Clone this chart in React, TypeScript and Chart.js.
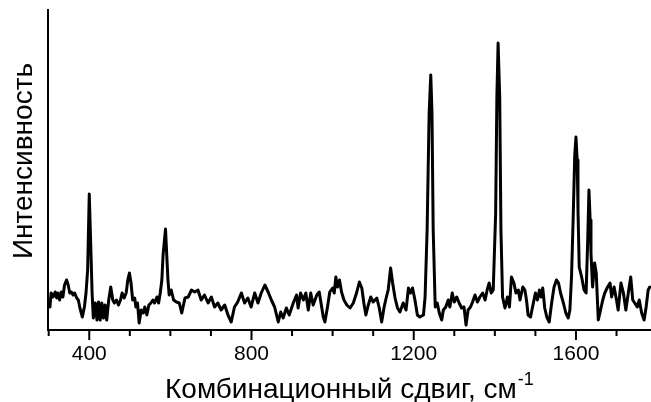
import React, { useEffect, useRef } from "react";
import { Chart, registerables } from "chart.js";

Chart.register(...registerables);

// Raman shift, cm-1
const wavenumbers = [
  303, 306, 311, 316, 320, 323, 327, 331, 335, 339, 344, 348, 352, 356, 360, 364, 369, 373, 377, 383,
  388, 392, 396, 400, 404, 407, 410, 415, 419, 423, 427, 431, 435, 439, 443, 448, 453, 458, 462, 467,
  472, 477, 481, 486, 491, 495, 499, 503, 507, 512, 515, 519, 523, 528, 533, 537, 542, 547, 552, 557,
  561, 567, 571, 575, 579, 582, 588, 594, 597, 602, 608, 615, 622, 628, 636, 644, 652, 660, 668, 676,
  684, 693, 701, 709, 717, 725, 734, 742, 750, 758, 766, 775, 783, 791, 799, 808, 816, 824, 833, 841,
  849, 857, 866, 872, 878, 886, 893, 903, 911, 915, 921, 928, 934, 940, 946, 952, 961, 967, 973, 977,
  981, 987, 993, 1000, 1004, 1008, 1012, 1017, 1022, 1028, 1035, 1043, 1051, 1059, 1066, 1072, 1077, 1082, 1088, 1094,
  1100, 1109, 1115, 1121, 1127, 1132, 1137, 1143, 1148, 1154, 1160, 1166, 1174, 1181, 1187, 1192, 1197, 1203, 1209, 1215,
  1224, 1228, 1233, 1238, 1242, 1245, 1248, 1253, 1258, 1263, 1269, 1273, 1279, 1285, 1289, 1295, 1300, 1306, 1312, 1318,
  1324, 1329, 1334, 1340, 1345, 1351, 1357, 1363, 1370, 1376, 1381, 1386, 1391, 1396, 1402, 1405, 1408, 1412, 1415, 1419,
  1425, 1431, 1436, 1441, 1447, 1452, 1458, 1462, 1469, 1474, 1478, 1482, 1488, 1495, 1500, 1505, 1510, 1514, 1518, 1523,
  1528, 1534, 1540, 1546, 1552, 1557, 1562, 1569, 1575, 1581, 1585, 1589, 1593, 1597, 1600, 1603, 1605, 1608, 1614, 1620,
  1625, 1629, 1632, 1635, 1637, 1641, 1646, 1650, 1655, 1659, 1666, 1671, 1678, 1684, 1688, 1694, 1700, 1704, 1711, 1717,
  1723, 1729, 1735, 1740, 1745, 1751, 1756, 1762, 1768, 1773, 1778, 1782,
];

// Intensity, arbitrary units
const intensity = [
  23, 37, 33, 38, 32, 37, 30, 38, 33, 45, 50, 45, 37, 38, 35, 37, 32, 30, 22, 13,
  23, 37, 60, 136, 80, 37, 12, 27, 10, 28, 10, 27, 12, 25, 10, 30, 43, 30, 27, 30,
  25, 30, 37, 32, 37, 50, 57, 47, 30, 32, 23, 27, 7, 20, 17, 23, 15, 25, 27, 30,
  27, 33, 27, 37, 50, 75, 101, 50, 35, 40, 30, 28, 27, 17, 32, 33, 40, 38, 40, 30,
  35, 27, 33, 23, 27, 20, 25, 15, 8, 23, 28, 37, 27, 32, 23, 37, 27, 37, 45, 38,
  30, 23, 8, 18, 12, 22, 15, 27, 35, 22, 37, 30, 37, 20, 37, 25, 35, 38, 23, 13,
  8, 22, 38, 42, 37, 53, 43, 50, 38, 30, 25, 22, 27, 37, 48, 42, 27, 15, 25, 33,
  28, 32, 22, 8, 23, 32, 40, 62, 47, 32, 22, 18, 27, 20, 42, 37, 42, 30, 15, 13,
  15, 33, 100, 217, 255, 217, 100, 23, 27, 17, 10, 20, 23, 30, 23, 37, 28, 33, 27, 22,
  23, 5, 20, 23, 28, 35, 28, 33, 37, 30, 40, 47, 37, 40, 117, 233, 287, 233, 100, 33,
  22, 33, 23, 53, 47, 37, 40, 30, 43, 40, 30, 15, 13, 27, 37, 30, 40, 33, 42, 22,
  13, 8, 27, 43, 50, 47, 37, 27, 17, 12, 20, 53, 110, 175, 193, 170, 120, 63, 53, 40,
  37, 90, 140, 110, 77, 43, 67, 57, 10, 17, 30, 37, 43, 47, 33, 43, 30, 20, 47, 37,
  20, 37, 53, 30, 27, 23, 30, 17, 10, 23, 40, 43,
];

const majorTicks = [400, 800, 1200, 1600];
const minorTicks = [300, 500, 600, 700, 900, 1000, 1100, 1300, 1400, 1500, 1700];
const xTitle = "Комбинационный сдвиг, см";
const xTitleSup = "-1";
const yTitle = "Интенсивность";

const FONT = "'Liberation Sans', Arial, Helvetica, sans-serif";

const axesPlugin = {
  id: "customAxes",
  afterDraw(chart: any) {
    const { ctx, chartArea, scales } = chart;
    const xs = scales.x;
    const ys = scales.y;
    const yBottom = ys.getPixelForValue(ys.min);
    const xLeft = xs.getPixelForValue(xs.min);
    const xRight = xs.getPixelForValue(xs.max);
    ctx.save();
    ctx.strokeStyle = "#000";
    ctx.fillStyle = "#000";
    ctx.lineWidth = 2;
    ctx.lineCap = "butt";
    // y axis line
    ctx.beginPath();
    ctx.moveTo(xLeft - 0.7, chartArea.top);
    ctx.lineTo(xLeft - 0.7, yBottom + 1);
    ctx.stroke();
    // x axis line
    ctx.beginPath();
    ctx.moveTo(xLeft - 1.7, yBottom);
    ctx.lineTo(xRight, yBottom);
    ctx.stroke();
    // ticks
    for (const v of majorTicks) {
      const px = xs.getPixelForValue(v);
      ctx.beginPath();
      ctx.moveTo(px, yBottom);
      ctx.lineTo(px, yBottom + 10);
      ctx.stroke();
    }
    for (const v of minorTicks) {
      const px = xs.getPixelForValue(v);
      ctx.beginPath();
      ctx.moveTo(px, yBottom);
      ctx.lineTo(px, yBottom + 6);
      ctx.stroke();
    }
    // tick labels
    ctx.font = `21px ${FONT}`;
    ctx.textAlign = "center";
    ctx.textBaseline = "alphabetic";
    for (const v of majorTicks) {
      ctx.fillText(String(v), xs.getPixelForValue(v), 359.5);
    }
    // x title with superscript
    ctx.font = `28px ${FONT}`;
    ctx.textAlign = "left";
    const tx = 165;
    ctx.fillText(xTitle, tx, 398);
    const w = ctx.measureText(xTitle).width;
    ctx.font = `18px ${FONT}`;
    ctx.fillText(xTitleSup, tx + w + 1, 385);
    // y title
    ctx.translate(32, 161);
    ctx.rotate(-Math.PI / 2);
    ctx.font = `28px ${FONT}`;
    ctx.textAlign = "center";
    ctx.fillText(yTitle, 0, 0);
    ctx.restore();
  },
};

export default function App() {
  const ref = useRef<HTMLCanvasElement | null>(null);
  useEffect(() => {
    if (!ref.current) return;
    const points = wavenumbers.map((x, i) => ({ x, y: intensity[i] }));
    const chart = new Chart(ref.current, {
      type: "line",
      data: {
        datasets: [
          {
            data: points,
            borderColor: "#000",
            borderWidth: 3,
            borderJoinStyle: "round",
            borderCapStyle: "round",
            pointRadius: 0,
            tension: 0,
            fill: false,
          },
        ],
      },
      options: {
        animation: false,
        responsive: false,
        devicePixelRatio: 1,
        layout: { padding: { left: 48.7, right: 0, top: 9, bottom: 72 } },
        scales: {
          x: { type: "linear", min: 300, max: 1785, display: false },
          y: { type: "linear", min: 0, max: 321, display: false },
        },
        plugins: { legend: { display: false }, tooltip: { enabled: false } },
      },
      plugins: [axesPlugin],
    } as any);
    return () => chart.destroy();
  }, []);
  return (
    <div style={{ position: "absolute", left: 0, top: 0, width: 651, height: 402, background: "#fff" }}>
      <canvas ref={ref} width={651} height={402} style={{ width: 651, height: 402 }} />
    </div>
  );
}
